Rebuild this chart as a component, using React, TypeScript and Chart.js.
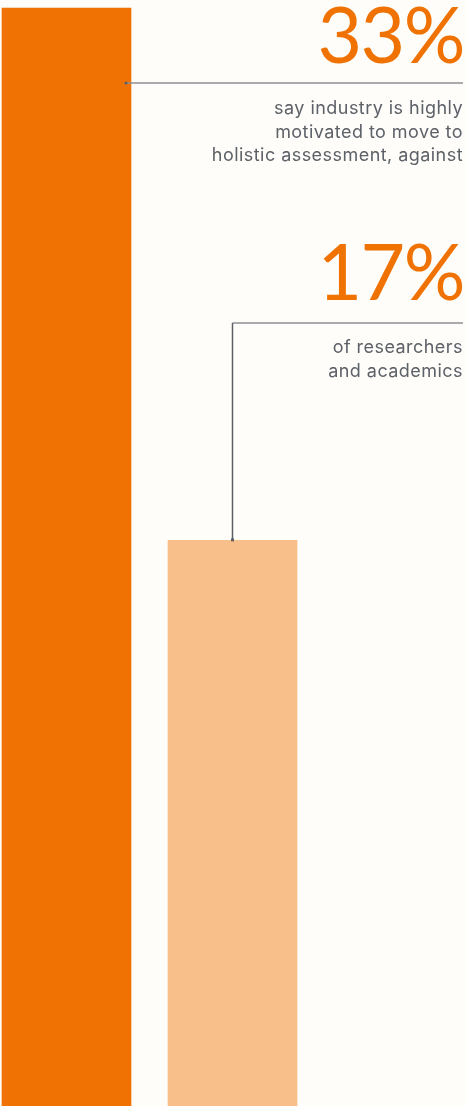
import React, { useEffect, useRef } from "react";
import { Chart, registerables } from "chart.js";

Chart.register(...registerables);

const categories = ["Industry", "Researchers and academics"];
const shares = [33, 17];
const barColors = ["#ef7203", "#f9bf8a"];
const shareLabels = ["33%", "17%"];
const captions = [
  ["say industry is highly", "motivated to move to", "holistic assessment, against"],
  ["of researchers", "and academics"],
];

const W = 466;
const H = 1106;
const BG = "#fefdf9";

// Leader lines connecting each bar to its callout
const leaderLines = {
  id: "leaderLines",
  afterDatasetsDraw(chart: Chart) {
    const { ctx } = chart;
    const meta = chart.getDatasetMeta(0);
    const b0: any = meta.data[0];
    const b1: any = meta.data[1];
    if (!b0 || !b1) return;
    const right = W - 3;
    ctx.save();
    ctx.strokeStyle = "#8d8f92";
    ctx.lineWidth = 1.5;
    // first callout: horizontal rule starting at the first bar
    const y0 = 83;
    const x0 = b0.x + b0.width / 2 - 5;
    ctx.beginPath();
    ctx.moveTo(x0, y0);
    ctx.lineTo(right, y0);
    ctx.stroke();
    ctx.fillStyle = "#5c6066";
    ctx.beginPath();
    ctx.arc(x0, y0, 1.5, 0, Math.PI * 2);
    ctx.fill();
    // second callout: elbow down to the top of the second bar
    const y1 = 323;
    const x1 = b1.x;
    ctx.beginPath();
    ctx.moveTo(right, y1);
    ctx.lineTo(x1, y1);
    ctx.stroke();
    ctx.strokeStyle = "#5c6066";
    ctx.beginPath();
    ctx.moveTo(x1, y1);
    ctx.lineTo(x1, b1.y);
    ctx.stroke();
    ctx.fillStyle = "#5c6066";
    ctx.fillRect(x1 - 1.5, b1.y - 2, 3, 3);
    ctx.restore();
  },
};

export default function App() {
  const ref = useRef<HTMLCanvasElement>(null);

  useEffect(() => {
    document.body.style.margin = "0";
    document.body.style.background = BG;
    const chart = new Chart(ref.current!, {
      type: "bar",
      data: {
        labels: categories,
        datasets: [
          {
            data: shares,
            backgroundColor: barColors,
            borderWidth: 0,
            barThickness: 129,
            clip: false as any,
          },
        ],
      },
      options: {
        animation: false,
        responsive: false,
        maintainAspectRatio: false,
        layout: { padding: { top: 8, left: 66.5, right: 233.5, bottom: 0 } },
        plugins: { legend: { display: false }, tooltip: { enabled: false } },
        scales: {
          x: { display: false, offset: false, grid: { display: false } },
          y: { display: false, min: 0, max: 33, grid: { display: false } },
        },
      },
      plugins: [leaderLines],
    });
    return () => chart.destroy();
  }, []);

  const bigStyle: React.CSSProperties = {
    position: "absolute",
    right: 2,
    fontFamily: "Lato, sans-serif",
    fontWeight: 400,
    fontSize: 77,
    lineHeight: "78px",
    color: "#ef7203",
    letterSpacing: -1.5,
    textAlign: "right",
    whiteSpace: "nowrap",
  };
  const capStyle: React.CSSProperties = {
    position: "absolute",
    right: 3,
    fontFamily: "Inter, sans-serif",
    fontWeight: 400,
    fontSize: 18,
    lineHeight: "23.5px",
    letterSpacing: 0.45,
    color: "#5d6168",
    textAlign: "right",
    whiteSpace: "nowrap",
  };

  return (
    <div style={{ position: "relative", width: W, height: H, background: BG, overflow: "hidden" }}>
      <canvas ref={ref} width={W} height={H} style={{ position: "absolute", left: 0, top: 0 }} />
      <div style={{ ...bigStyle, top: -6 }}>{shareLabels[0]}</div>
      <div style={{ ...capStyle, top: 96 }}>
        {captions[0].map((l) => (
          <div key={l}>{l}</div>
        ))}
      </div>
      <div style={{ ...bigStyle, top: 231 }}>{shareLabels[1]}</div>
      <div style={{ ...capStyle, top: 335 }}>
        {captions[1].map((l) => (
          <div key={l}>{l}</div>
        ))}
      </div>
    </div>
  );
}
